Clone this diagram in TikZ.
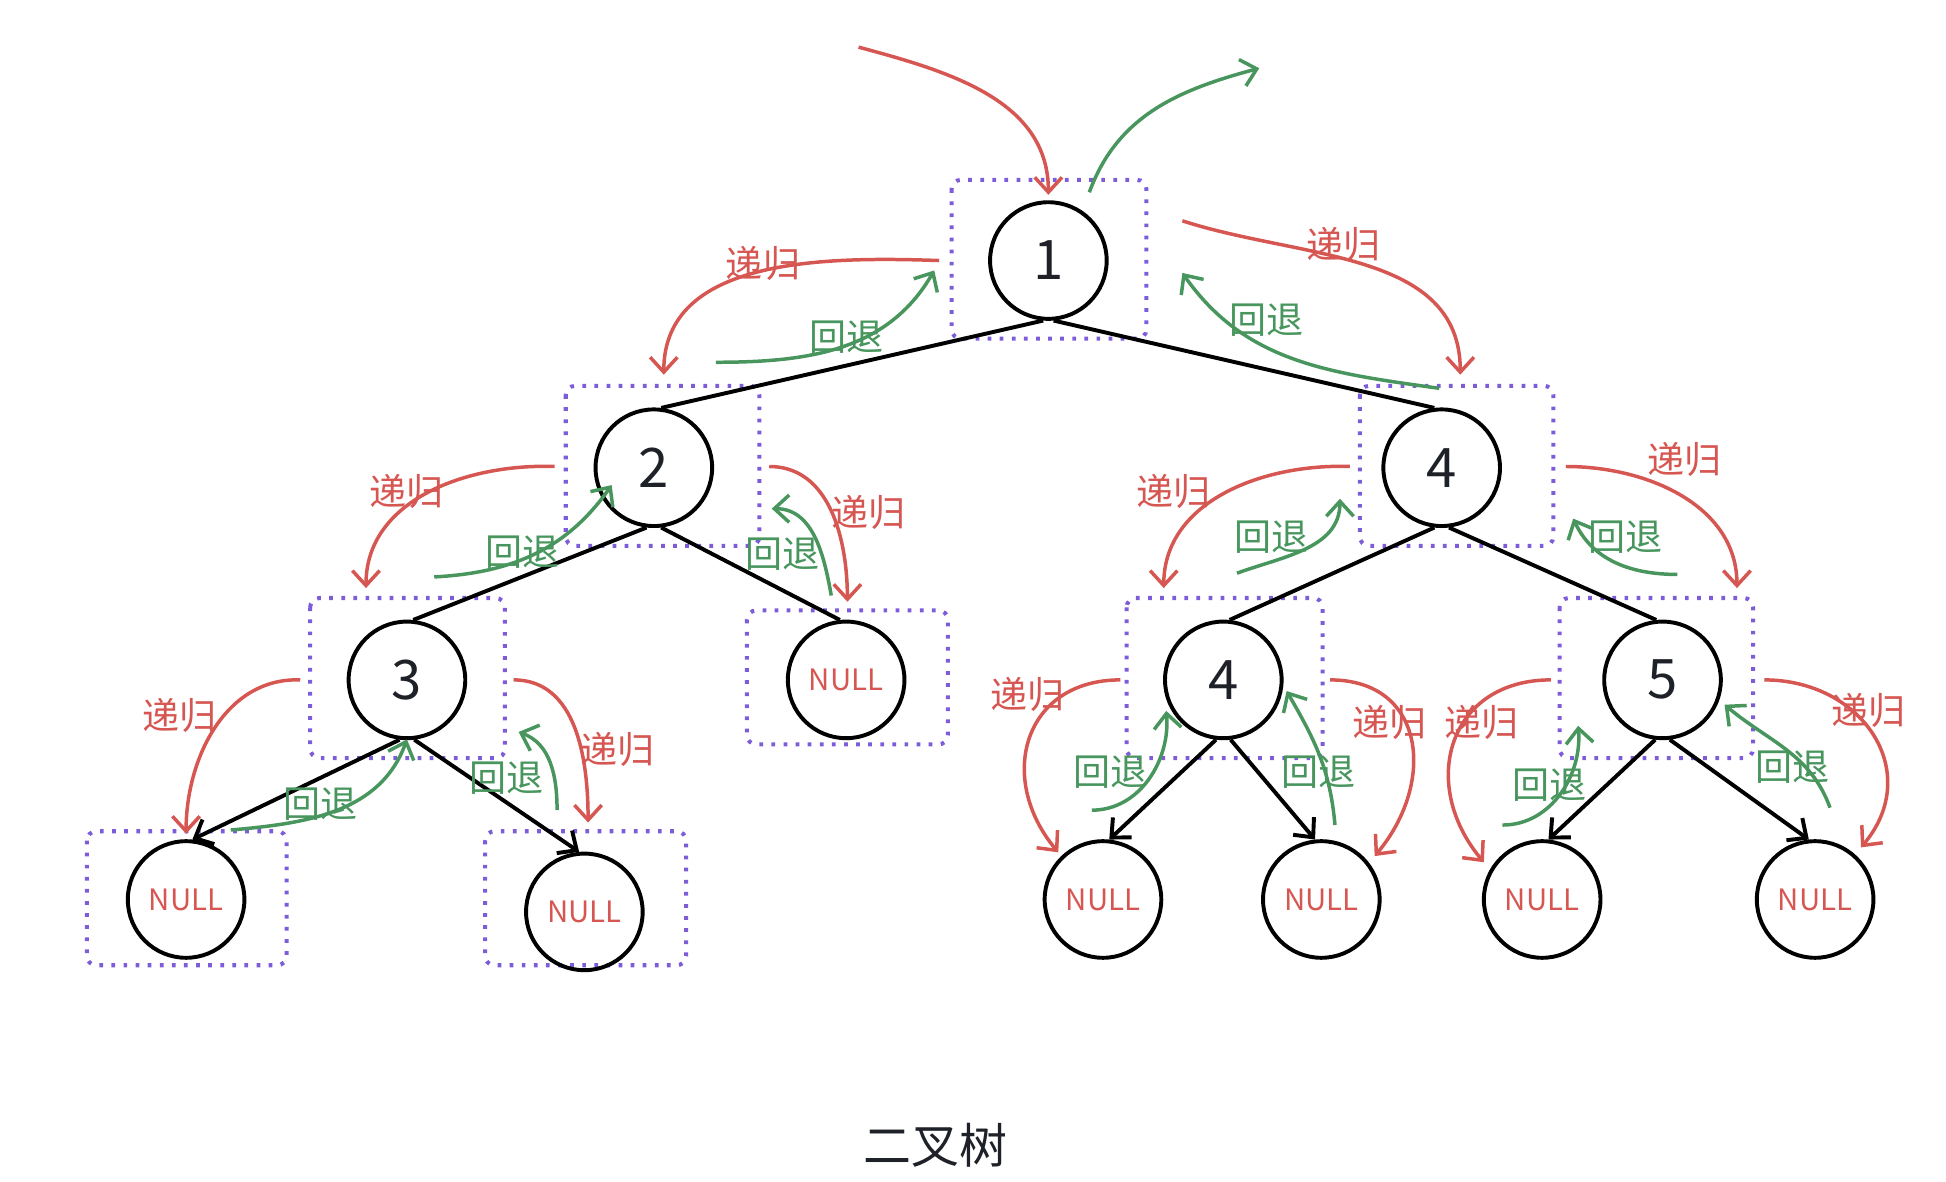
\documentclass[tikz,border=0pt]{standalone}
\usepackage{fontspec}
\setmainfont{Noto Sans CJK SC}
\usetikzlibrary{arrows.meta}

\definecolor{recred}{RGB}{214,86,82}
\definecolor{backgreen}{RGB}{72,150,94}
\definecolor{boxviolet}{RGB}{124,92,216}
\definecolor{inkdark}{RGB}{30,33,40}

\tikzset{
  tnode/.style={circle,draw=black,line width=1.8pt,minimum size=18.8mm,inner sep=0pt,text=inkdark,font=\fontsize{25}{25}\selectfont},
  nullnode/.style={tnode,text=recred,font=\fontsize{13.5}{13.5}\selectfont},
  fbox/.style={draw=boxviolet,line width=0.65mm,dash pattern=on 0.6mm off 1.35mm,rounded corners=1.5mm},
  link/.style={black,line width=1.8pt},
  recarrow/.style={recred,line width=1.6pt,->},
  backarrow/.style={backgreen,line width=1.6pt,->},
  reclbl/.style={text=recred,font=\fontsize{17}{17}\selectfont},
  backlbl/.style={text=backgreen,font=\fontsize{17}{17}\selectfont},
}

\begin{document}
\begin{tikzpicture}[x=0.2mm,y=-0.2mm,>={Straight Barb[length=2.4mm,width=4.4mm]}]
        \useasboundingbox (0,0) rectangle (1568.5,952.7);
        % frames
        \foreach \xa/\ya/\xb/\yb in {767/145/924/273,456/311/612/440,1096/311/1252/440,250/482/407/611,602/492/764/600,908/482/1066/611,1257/482/1413/611,70/670/231/778,391/670/553/778}{
                \draw[fbox] (\xa,\ya) rectangle (\xb,\yb);
        };
        % tree
        \node[tnode] (n1) at (845,210) {1};
        \node[tnode] (n2) at (527,377) {2};
        \node[tnode] (n4a) at (1162,377) {4};
        \node[tnode] (n3) at (328,548) {3};
        \node[nullnode] (z0) at (682,548) {NULL};
        \node[tnode] (n4b) at (986,548) {4};
        \node[tnode] (n5) at (1340,548) {5};
        \node[nullnode] (z1) at (150,725) {NULL};
        \node[nullnode] (z2) at (471,735) {NULL};
        \node[nullnode] (z3) at (889,725) {NULL};
        \node[nullnode] (z4) at (1065,725) {NULL};
        \node[nullnode] (z5) at (1243,725) {NULL};
        \node[nullnode] (z6) at (1463,725) {NULL};
        \draw[link] (n1.265) -- (n2.83);
        \draw[link] (n1.275) -- (n4a.97);
        \draw[link] (n2.263) -- (n3.84);
        \draw[link] (n2.277) -- (z0.96);
        \draw[link] (n4a.263) -- (n4b.84);
        \draw[link] (n4a.277) -- (n5.96);
        \draw[link,->] (n3.263) -- (z1.84);
        \draw[link,->] (n3.277) -- (z2.95);
        \draw[link,->] (n4b.263) -- (z3.84);
        \draw[link,->] (n4b.277) -- (z4.96);
        \draw[link,->] (n5.263) -- (z5.84);
        \draw[link,->] (n5.277) -- (z6.96);
        % recursion / backtrack
        \foreach \xa/\ya/\xb/\yb/\o/\i/\l in {692/38/845/157/-15/90/1,757/210/535/302/178/90/1,953/178/1177/302/-18/90/1,447/376/295/474/178/90/1,620/376/683/485/0/90/1,1088/376/938/474/178/90/1,1262/376/1400/474/0/90/1,242/548/150/672/178/90/1,414/548/474/663/0/90/1,903/548/853/687/180/130/1.35,1072/548/1108/690/0/50/1.35,1250/548/1196/695/180/130/1.35,1422/548/1500/683/0/50/1.3}{
                \draw[recarrow] (\xa,\ya) to[out=\o,in=\i,looseness=\l] (\xb,\yb);
        };
        \foreach \xa/\ya/\xb/\yb/\o/\i in {878/155/1015/55/70/195,577/292/753/218/0/240,1160/313/953/220/172/-55,350/465/493/391/3/235,670/480/622/410/100/0,997/462/1080/402/20/-90,1352/463/1268/418/180/-65,186/669/328/596/5/250,449/653/418/590/90/-20,880/653/940/573/0/-85,1076/665/1037/557/95/-60,1211/665/1272/585/0/-85,1475/651/1390/568/110/-40}{
                \draw[backarrow] (\xa,\ya) to[out=\o,in=\i] (\xb,\yb);
        };
        \foreach \x/\y [count=\k] in {615/212,1083/197,328/396,700/413,946/396,1358/370,145/577,498/604,828/560,1120/582,1194/582,1506/573}{
                \node[reclbl] (rl\k) at (\x,\y) {递归};
        };
        \foreach \x/\y [count=\k] in {682/272,1021/258,421/445,631/447,1025/433,1310/433,258/648,408/627,895/622,1063/622,1249/633,1445/618}{
                \node[backlbl] (bl\k) at (\x,\y) {回退};
        };
        \node[text=inkdark,font=\fontsize{22}{22}\selectfont] (title) at (754,923) {二叉树};
\end{tikzpicture}
\end{document}
